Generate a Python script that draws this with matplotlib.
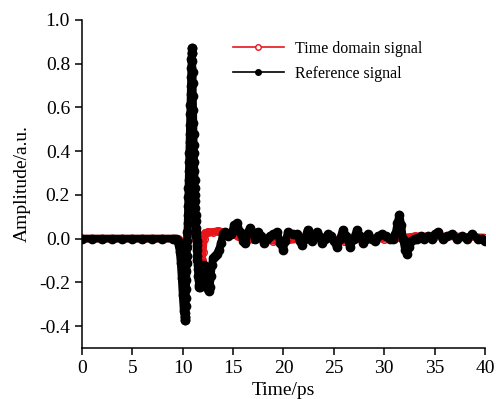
import numpy as np
import matplotlib
matplotlib.use("Agg")
import matplotlib.pyplot as plt
from matplotlib.lines import Line2D

plt.rcParams['font.family'] = ['Liberation Serif', 'DejaVu Serif']

# reference signal (black), time in ps
ref_t = [0, 1, 2, 3, 4, 5, 6, 7, 8, 9, 9.3, 9.4, 9.5, 9.6, 9.7, 9.8, 9.9, 10.0, 10.1,
         10.20, 10.22, 10.24, 10.26, 10.28, 10.30, 10.32, 10.34, 10.36, 10.38, 10.40,
         10.42, 10.44, 10.46, 10.48, 10.50, 10.52, 10.54, 10.56, 10.58, 10.60, 10.62,
         10.64, 10.66, 10.68, 10.70, 10.72, 10.74, 10.76, 10.78, 10.80, 10.82, 10.84,
         10.86, 10.88, 10.90, 10.92, 10.94, 10.96, 10.98, 11.00, 11.02, 11.04, 11.06,
         11.08, 11.10, 11.12, 11.14, 11.16, 11.18, 11.20, 11.22, 11.24, 11.26, 11.28,
         11.30, 11.32, 11.34, 11.36, 11.38, 11.40, 11.42, 11.44, 11.46, 11.48, 11.50,
         11.54, 11.58, 11.62, 11.66, 11.70, 11.75,
         11.8, 11.9, 12.0, 12.1, 12.2, 12.3, 12.4, 12.5, 12.6, 12.7, 12.8, 12.9, 13.0,
         13.2, 13.4, 13.6, 13.8, 14.0, 14.2, 14.5, 14.8, 15.1, 15.4, 15.7, 16.0, 16.2,
         16.5, 16.7, 16.9, 17.2, 17.5, 17.8, 18.1, 18.4, 18.7, 19.0, 19.35, 19.7, 19.95,
         20.2, 20.45, 20.9, 21.3, 21.6, 21.85, 22.1, 22.4, 22.6, 22.8, 23.05, 23.3, 23.55,
         23.8, 24.1, 24.4, 24.7, 25.0, 25.3, 25.6, 25.9, 26.25, 26.6, 26.95, 27.3, 27.6,
         27.9, 28.15, 28.4, 28.75, 29.05, 29.4, 29.75, 30.15, 30.55, 30.85, 31.1, 31.3,
         31.5, 31.7, 31.85, 32.05, 32.25, 32.45, 32.7, 33.0, 33.25, 33.6, 33.9, 34.3,
         34.7, 35.0, 35.3, 35.8, 36.2, 36.7, 37.2, 37.7, 38.2, 38.7, 39.3, 39.7, 40.0]
ref_v = [0, 0, 0, 0, 0, 0, 0, 0, 0, 0, 0.0, -0.005, -0.01, -0.03, -0.06, -0.11, -0.18, -0.26, -0.33,
         -0.36, -0.37, -0.37, -0.36, -0.34, -0.31, -0.27, -0.23, -0.19, -0.15, -0.11,
         -0.08, -0.04, -0.01, 0.03, 0.07, 0.11, 0.15, 0.19, 0.23, 0.27, 0.31,
         0.35, 0.39, 0.44, 0.48, 0.52, 0.57, 0.61, 0.66, 0.70, 0.74, 0.78,
         0.82, 0.85, 0.87, 0.87, 0.85, 0.81, 0.76, 0.71, 0.65, 0.59, 0.53,
         0.48, 0.43, 0.39, 0.35, 0.31, 0.27, 0.23, 0.20, 0.17, 0.14, 0.11,
         0.08, 0.05, 0.03, 0.01, -0.01, -0.03, -0.05, -0.08, -0.10, -0.12, -0.14,
         -0.17, -0.19, -0.21, -0.22, -0.22, -0.21,
         -0.20, -0.16, -0.13, -0.12, -0.13, -0.17, -0.21, -0.23, -0.24, -0.22, -0.17, -0.12, -0.09,
         -0.08, -0.07, -0.05, -0.02, 0.02, 0.03, 0.01, 0.02, 0.06, 0.07, 0.03, -0.01, -0.02,
         0.03, 0.05, 0.03, 0.0, 0.03, 0.01, -0.02, 0.0, 0.01, 0.02, 0.03, -0.02, -0.05,
         -0.01, 0.03, 0.02, 0.02, -0.01, -0.03, 0.0, 0.04, 0.02, -0.01, 0.01, 0.03, 0.01,
         -0.02, 0.0, 0.02, 0.01, -0.01, -0.04, 0.0, 0.04, 0.01, -0.04, 0.0, 0.04, 0.01,
         -0.02, 0.0, 0.02, 0.0, -0.01, 0.01, 0.02, 0.01, 0.0, 0.0, 0.02, 0.07,
         0.11, 0.06, 0.0, -0.05, -0.07, -0.04, -0.01, 0.0, 0.0, 0.01, 0.0, 0.01,
         0.0, 0.02, 0.03, 0.0, 0.01, 0.02, 0.0, 0.01, 0.0, 0.02, 0.0, 0.0, -0.01]

# time domain signal (red)
sig_t = [0, 2, 4, 6, 8, 9.5, 9.7, 9.9, 10.1, 10.25, 10.35, 10.45, 10.55, 10.65, 10.72,
         10.8, 10.9, 11.0, 11.3, 11.6, 11.8, 11.9, 12.0, 12.1, 12.25, 12.5, 13.0, 13.5,
         14.0, 14.5, 15.0, 15.5, 16.0, 16.5, 17.0, 18.0, 19.0, 20.0, 22.0, 24.0, 26.0,
         28.0, 30.0, 31.0, 32.0, 33.0, 35.0, 37.0, 40.0]
sig_v = [0, 0, 0, 0, 0, 0, -0.01, -0.02, -0.04, -0.04, -0.02, 0.02, 0.07, 0.12, 0.14,
         0.12, 0.07, 0.03, 0.0, -0.04, -0.09, -0.10, -0.06, 0.0, 0.025, 0.03, 0.03, 0.035,
         0.03, 0.025, 0.02, 0.01, 0.01, 0.0, 0.0, -0.005, -0.01, -0.01, 0.0, 0.0, -0.01,
         0.0, 0.0, 0.0, 0.005, 0.01, 0.01, 0.01, 0.005]

fig = plt.figure(figsize=(4.96, 3.99), dpi=100)
ax = fig.add_axes([0.165, 0.128, 0.813, 0.822])

ax.plot(sig_t, sig_v, color='#e8151b', lw=5.5, marker='o', ms=5.5, mfc='none', mec='#e8151b', mew=1,
        solid_capstyle='round', solid_joinstyle='round')
ax.plot(ref_t, ref_v, color='black', lw=5.5, marker='o', ms=6, mfc='black', mec='black',
        solid_capstyle='round', solid_joinstyle='round')

ax.set_xlim(0, 40)
ax.set_ylim(-0.5, 1.0)
ax.set_xticks(np.arange(0, 41, 5))
ax.set_yticks([-0.4, -0.2, 0.0, 0.2, 0.4, 0.6, 0.8, 1.0])
ax.set_yticklabels(['-0.4', '-0.2', '0.0', '0.2', '0.4', '0.6', '0.8', '1.0'])
ax.spines['top'].set_visible(False)
ax.spines['right'].set_visible(False)
for s in ['left', 'bottom']:
    ax.spines[s].set_linewidth(1.1)
ax.tick_params(direction='out', length=5, width=1.1, labelsize=14)
ax.set_xlabel('Time/ps', fontsize=14, labelpad=4)
ax.set_ylabel('Amplitude/a.u.', fontsize=14, labelpad=6)

handles = [Line2D([], [], color='#e8151b', lw=1.2, marker='o', ms=4, mfc='white', mec='#e8151b'),
           Line2D([], [], color='black', lw=1.2, marker='o', ms=4, mfc='black', mec='black')]
ax.legend(handles, ['Time domain signal', 'Reference signal'], loc='upper right',
          bbox_to_anchor=(0.88, 0.98), frameon=False, fontsize=11.5, handlelength=3.2,
          numpoints=1, labelspacing=0.55, handletextpad=0.7)

fig.savefig('out.png', dpi=100)
